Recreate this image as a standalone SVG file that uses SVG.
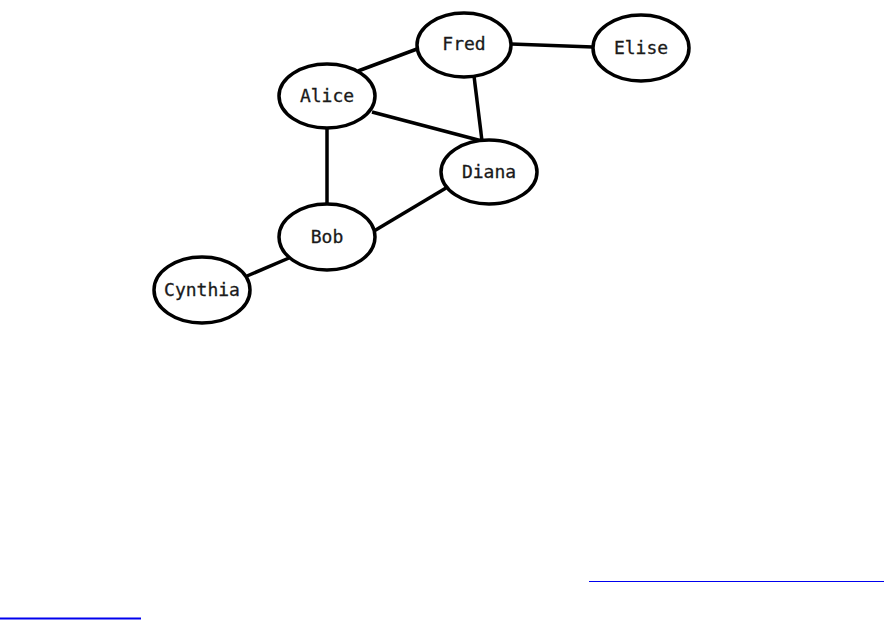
<svg xmlns="http://www.w3.org/2000/svg" width="885" height="620" viewBox="0 0 885 620">
<style>
.n ellipse{fill:#fff;stroke:#000;stroke-width:3.5}
.n text{font-family:"DejaVu Sans Mono","Liberation Mono",monospace;font-size:18px;fill:#1a1a1a;stroke:#1a1a1a;stroke-width:0.3;text-anchor:middle;dominant-baseline:central}
#edges line{stroke:#000;stroke-width:3.5}
</style>
<rect width="885" height="620" fill="#fff"/>
<g id="edges">
<line x1="358" y1="71" x2="417" y2="49"/>
<line x1="511" y1="44" x2="593" y2="47"/>
<line x1="474" y1="76" x2="482" y2="141"/>
<line x1="372" y1="112" x2="482" y2="141"/>
<line x1="327" y1="127" x2="327" y2="205"/>
<line x1="374" y1="231" x2="446" y2="188"/>
<line x1="247" y1="276" x2="289" y2="258"/>
</g>
<g id="Fred" class="n"><ellipse cx="464" cy="45" rx="47" ry="32"/><text x="464" y="43">Fred</text></g>
<g id="Elise" class="n"><ellipse cx="641" cy="48" rx="48" ry="33"/><text x="641" y="47">Elise</text></g>
<g id="Alice" class="n"><ellipse cx="327" cy="96" rx="48" ry="32"/><text x="327" y="95">Alice</text></g>
<g id="Diana" class="n"><ellipse cx="489" cy="172" rx="48" ry="32"/><text x="489" y="171">Diana</text></g>
<g id="Bob" class="n"><ellipse cx="327" cy="237" rx="48" ry="33"/><text x="327" y="236">Bob</text></g>
<g id="Cynthia" class="n"><ellipse cx="202" cy="290" rx="48" ry="33"/><text x="202" y="289">Cynthia</text></g>
<line x1="589" y1="581.5" x2="884" y2="581.5" stroke="#0000ee" stroke-width="1"/>
<line x1="0" y1="618.5" x2="141" y2="618.5" stroke="#0000ee" stroke-width="2"/>
</svg>
